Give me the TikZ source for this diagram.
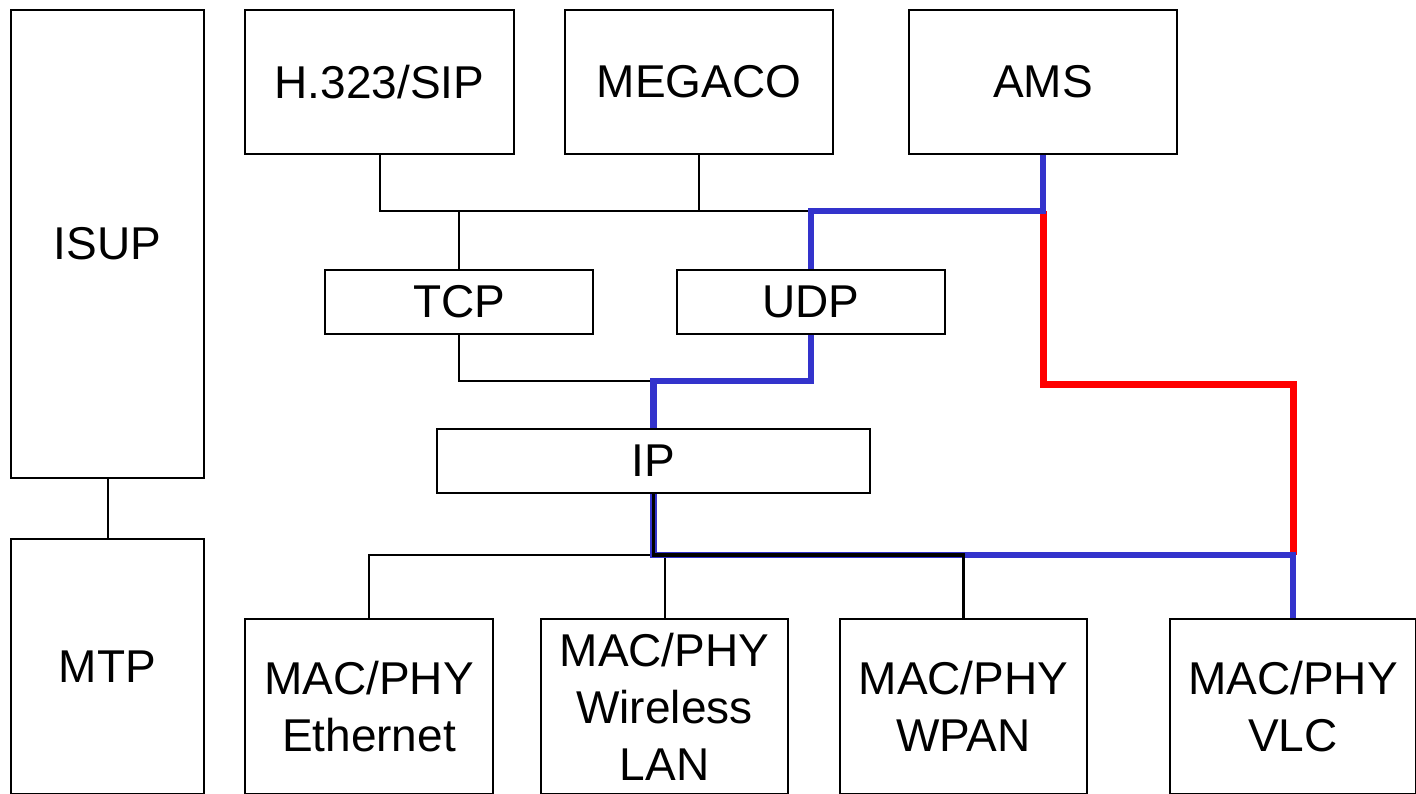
\documentclass[tikz,border=0pt]{standalone}
\usepackage{fontspec}
\setmainfont{Liberation Sans}
\definecolor{pathblue}{RGB}{51,51,204}
\definecolor{pathred}{RGB}{255,0,0}
\begin{document}
\begin{tikzpicture}[x=1pt,y=-1pt,
  blk/.style={draw=black,line width=2pt,fill=white,inner sep=0pt,anchor=north west,
    align=center,font=\fontsize{46}{57}\selectfont},
  thinln/.style={draw=black,line width=2pt},
  thickln/.style={draw=black,line width=3.5pt},
  blueln/.style={draw=pathblue,line width=6.5pt},
  redln/.style={draw=pathred,line width=7pt}]
\useasboundingbox (0,0) rectangle (1416,794);
\fill[white] (0,0) rectangle (1416,794);
% boxes
\node[blk,minimum width=193pt,minimum height=468pt] (isup) at (10,9) {ISUP};
\node[blk,minimum width=193pt,minimum height=255pt] (mtp) at (10,538) {MTP};
\node[blk,minimum width=269pt,minimum height=144pt] (h323) at (244,9) {H.323/SIP};
\node[blk,minimum width=268pt,minimum height=144pt] (megaco) at (564,9) {MEGACO};
\node[blk,minimum width=268pt,minimum height=144pt] (ams) at (908,9) {AMS};
\node[blk,minimum width=268pt,minimum height=64pt] (tcp) at (324,269) {TCP};
\node[blk,minimum width=268pt,minimum height=64pt] (udp) at (676,269) {UDP};
\node[blk,minimum width=433pt,minimum height=64pt] (ip) at (436,428) {IP};
\node[blk,minimum width=248pt,minimum height=175pt] (eth) at (244,618) {MAC/PHY\\Ethernet};
\node[blk,minimum width=247pt,minimum height=175pt] (wlan) at (540,618) {MAC/PHY\\Wireless\\LAN};
\node[blk,minimum width=247pt,minimum height=175pt] (wpan) at (839,618) {MAC/PHY\\WPAN};
\node[blk,minimum width=246pt,minimum height=175pt] (vlc) at (1169,618) {MAC/PHY\\VLC};
% junction coordinates
\coordinate (jA) at (810,211);
\coordinate (jB) at (810,381);
\coordinate (jC) at (1043,384);
\coordinate (jD) at (963,555);
% thin black connectors
\draw[thinln] (isup.south) -- (mtp.north);
\draw[thinln] (h323.south) |- (udp.north |- jA);
\draw[thinln] (megaco.south) -- (megaco.south |- jA);
\draw[thinln] (tcp.north) -- (tcp.north |- jA);
\draw[thinln] (tcp.south) |- (ip.north |- jB);
\draw[thinln] (eth.north) |- (ip.south |- jD);
\draw[thinln] (wlan.north) -- (wlan.north |- jD);
% red path
\draw[redln] (ams.south |- jA) |- (jC) -| (vlc.north |- jD);
% blue paths
\draw[blueln] (ams.south) |- (udp.north |- jA) -- (udp.north);
\draw[blueln] (udp.south) -- (udp.south |- jB) -| (ip.north);
\draw[blueln] (ip.south) |- (vlc.north |- jD) -- (vlc.north);
% thick black path
\draw[thickln] (ip.south) |- (wpan.north |- jD) -- (wpan.north);
\end{tikzpicture}
\end{document}
